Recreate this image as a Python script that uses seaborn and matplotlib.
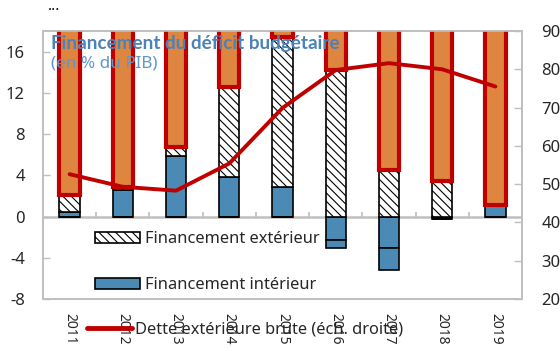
import numpy as np
import pandas as pd
import matplotlib
matplotlib.use("Agg")
import matplotlib.pyplot as plt
import matplotlib.patches as mpatches
import matplotlib.lines as mlines
import seaborn as sns

# Financement du déficit budgétaire (en % du PIB) et dette extérieure brute
years = ["2011", "2012", "2013", "2014", "2015", "2016", "2017", "2018", "2019"]
fin_interieur = [0.4, 2.6, 5.9, 3.8, 2.9, -2.25, -3.05, -0.25, 1.0]
fin_interieur_autre = [0.0, 0.0, 0.0, 0.0, 0.0, -0.85, -2.15, 0.0, 0.0]
fin_exterieur = [1.7, 0.3, 0.8, 8.8, 14.5, 14.2, 4.55, 3.45, 0.1]
besoin_residuel = [20.0, 20.0, 20.0, 20.0, 20.0, 20.0, 20.0, 20.0, 20.0]
dette_exterieure = [52.6, 49.3, 48.3, 55.4, 69.9, 79.8, 81.6, 80.0, 75.5]

left_ticks = [-8, -4, 0, 4, 8, 12, 16]
right_ticks = [20, 30, 40, 50, 60, 70, 80, 90]

BLUE = "#4A8AB4"
ORANGE = "#DE853F"
RED = "#C00000"
GRID = "#BFBFBF"
TITLE_BLUE = "#4A82B9"
SUB_BLUE = "#5F97CC"
HATCH = "\\\\\\\\"

sns.set_style("white")
plt.rcParams["font.family"] = ["Noto Sans", "DejaVu Sans"]
plt.rcParams["hatch.linewidth"] = 0.8

df = pd.DataFrame({
    "annee": years,
    "interieur": fin_interieur,
    "interieur_autre": fin_interieur_autre,
    "exterieur": fin_exterieur,
    "residuel": besoin_residuel,
    "dette": dette_exterieure,
})

# positive parts stack upward from zero, negative parts downward
int_pos = np.clip(df["interieur"].to_numpy(), 0, None)
ext_bottom = int_pos
res_bottom = int_pos + df["exterieur"].to_numpy()
autre_bottom = np.clip(df["interieur"].to_numpy(), None, 0)

fig = plt.figure(figsize=(5.6, 3.51), dpi=100)
ax = fig.add_axes([43 / 560, 1 - 299 / 351, (522 - 43) / 560, (299 - 31) / 351])

W = 0.38
common = dict(x="annee", ax=ax, width=W, saturation=1, errorbar=None)

sns.barplot(data=df, y="interieur", color=BLUE, edgecolor="black",
            linewidth=1.2, zorder=3, **common)
sns.barplot(data=df, y="interieur_autre", color=BLUE, edgecolor="black",
            linewidth=1.2, bottom=autre_bottom, zorder=3, **common)
sns.barplot(data=df, y="exterieur", color="white", edgecolor="black",
            hatch=HATCH, linewidth=1.2, bottom=ext_bottom, zorder=3, **common)
sns.barplot(data=df, y="residuel", color=ORANGE, edgecolor=RED,
            linewidth=3.0, bottom=res_bottom, zorder=4, **common)

ax.set_ylim(-8, 18)
ax.set_xlim(-0.5, len(years) - 0.5)
ax.set_yticks(left_ticks)
ax.set_yticklabels([str(t) for t in left_ticks], fontsize=12)
ax.set_xlabel("")
ax.set_ylabel("")
ax.set_xticks(range(len(years)))
ax.set_xticklabels(years, rotation=-90, fontsize=10, va="top", ha="center")
ax.tick_params(axis="x", length=0, pad=10)
ax.tick_params(axis="y", direction="in", length=5, color=GRID, width=1, pad=13)

for s in ax.spines.values():
    s.set_color(GRID)
    s.set_linewidth(1.2)

# category axis at zero with small separator ticks
ax.axhline(0, color=GRID, linewidth=1.8, zorder=2)
ax.vlines(np.arange(len(years) - 1) + 0.5, 0, 0.45, color=GRID, linewidth=1.2, zorder=2)

# debt line on the right axis
ax2 = ax.twinx()
sns.lineplot(data=df, x="annee", y="dette", ax=ax2, color=RED, linewidth=2.8,
             sort=False, solid_capstyle="round", zorder=5)
ax2.set_ylim(20, 90)
ax2.set_yticks(right_ticks)
ax2.set_yticklabels([str(t) for t in right_ticks], fontsize=12)
ax2.set_ylabel("")
ax2.tick_params(axis="y", direction="in", length=6, color=GRID, width=1, pad=14)
for s in ax2.spines.values():
    s.set_color(GRID)
    s.set_linewidth(1.2)
if ax2.get_legend() is not None:
    ax2.get_legend().remove()

# titles, drawn above the bars and the line
ax2.text(51 / 560, 1 - 43 / 351, "Financement du déficit budgétaire",
         transform=fig.transFigure, fontsize=13.6, fontweight="bold",
         family=["Lato", "DejaVu Sans"],
         color=TITLE_BLUE, ha="left", va="center", zorder=30)
ax2.text(51 / 560, 1 - 64 / 351, "(en % du PIB)", transform=fig.transFigure,
         fontsize=12.3, color=SUB_BLUE, ha="left", va="center", zorder=30)
fig.text(48 / 560, 1 - 7 / 351, "...", fontsize=11, color="black", ha="left", va="center")

# legends
h_ext = mpatches.Patch(facecolor="white", edgecolor="black", hatch=HATCH,
                       linewidth=1.2, label="Financement extérieur")
h_int = mpatches.Patch(facecolor=BLUE, edgecolor="black", linewidth=1.2,
                       label="Financement intérieur")
leg1 = fig.legend(handles=[h_ext, h_int], loc="upper left",
                  bbox_to_anchor=(95 / 560, 1 - 231 / 351), frameon=False,
                  fontsize=11.8, handlelength=2.75, handleheight=0.7,
                  handletextpad=0.3, labelspacing=1.85, borderpad=0,
                  borderaxespad=0)
h_line = mlines.Line2D([], [], color=RED, linewidth=3.5, label="Dette extérieure brute (éch. droite)")
leg2 = fig.legend(handles=[h_line], loc="center left",
                  bbox_to_anchor=(87 / 560, 1 - 330 / 351), frameon=False,
                  fontsize=11.8, handlelength=2.75, handletextpad=0.2,
                  borderpad=0, borderaxespad=0)
leg1.set_zorder(20)
leg2.set_zorder(20)

fig.savefig("out.png", dpi=100)
